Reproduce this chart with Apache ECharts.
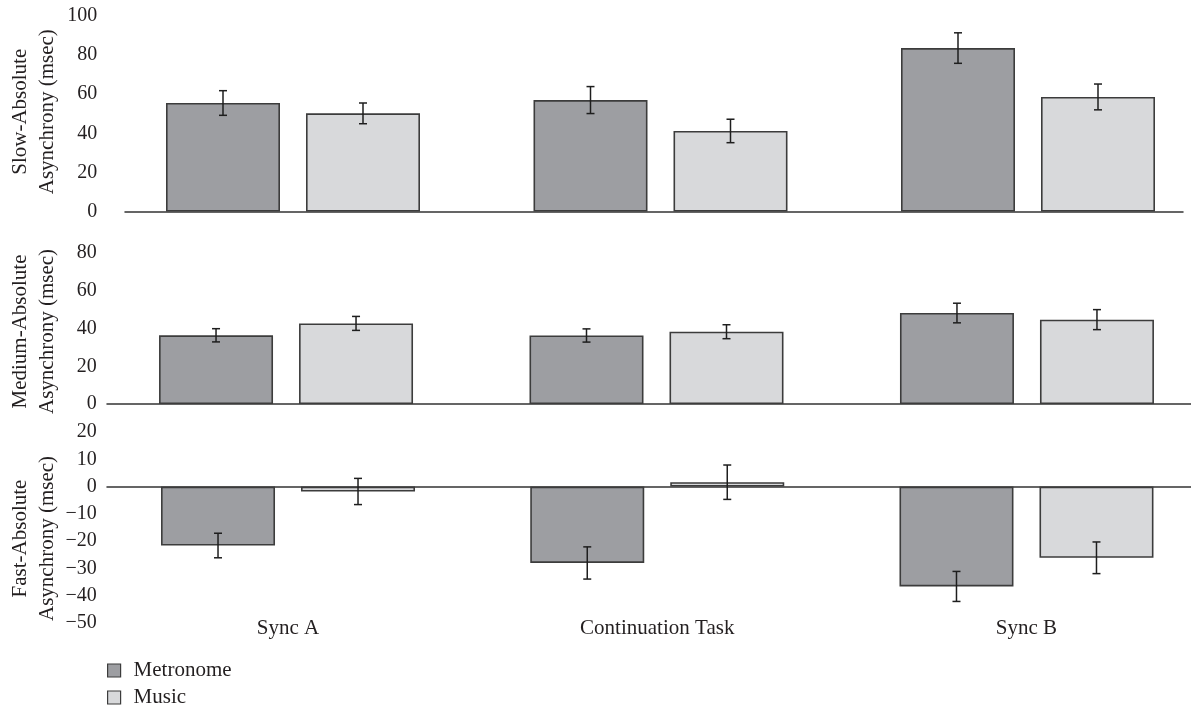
<!DOCTYPE html>
<html>
<head>
<meta charset="utf-8">
<script src="https://cdn.jsdelivr.net/npm/echarts@6/dist/echarts.min.js"></script>
<style>
html,body{margin:0;padding:0;background:#fff;}
#chart{width:1191px;height:707px;}
</style>
</head>
<body>
<div id="chart"></div>
<script>
// ---- data ----
const categories = ['Sync A', 'Continuation Task', 'Sync B'];
const seriesNames = ['Metronome', 'Music'];

const slowTicks = [0, 20, 40, 60, 80, 100];
const slowMetronome = [55.5, 57.0, 83.6];
const slowMetronomeErr = [6.3, 6.9, 7.8];
const slowMusic = [50.2, 41.2, 58.6];
const slowMusicErr = [5.3, 6.0, 6.6];

const mediumTicks = [0, 20, 40, 60, 80];
const mediumMetronome = [36.4, 36.3, 48.2];
const mediumMetronomeErr = [3.5, 3.5, 5.2];
const mediumMusic = [42.7, 38.3, 44.7];
const mediumMusicErr = [3.7, 3.7, 5.3];

const fastTicks = [-50, -40, -30, -20, -10, 0, 10, 20];
const fastMetronome = [-21.6, -28.0, -36.6];
const fastMetronomeErr = [4.5, 5.9, 5.5];
const fastMusic = [-1.8, 1.6, -26.1];
const fastMusicErr = [4.8, 6.3, 5.8];

// ---- style ----
const FONT = '"Liberation Serif", "DejaVu Serif", serif';
const TEXT = '#231f20';
const COLORS = ['#9d9ea2', '#d8d9db'];
const BORDER = '#3c3c3c';
const BAR_W = 114;
const BAR_GAP = 26;
const TICK_FS = 20;
const TEXT_FS = 21;

const panels = [
  { title: 'Slow-Absolute\nAsynchrony (msec)', ticks: slowTicks,
    vals: [slowMetronome, slowMusic], errs: [slowMetronomeErr, slowMusicErr],
    bar: { left: 109.25, right: -20.75, top: 16, bottom: 495.5 },
    line: { left: 125, right: 8 }, labelMargin: 12, nameGap: 48.25, namePad: [0,0,0,4], showX: false },
  { title: 'Medium-Absolute\nAsynchrony (msec)', ticks: mediumTicks,
    vals: [mediumMetronome, mediumMusic], errs: [mediumMetronomeErr, mediumMusicErr],
    bar: { left: 100.8, right: -21.2, top: 253, bottom: 303 },
    line: { left: 107, right: 0 }, labelMargin: 4, nameGap: 40, namePad: [0,6,0,0], showX: false },
  { title: 'Fast-Absolute\nAsynchrony (msec)', ticks: fastTicks,
    vals: [fastMetronome, fastMusic], errs: [fastMetronomeErr, fastMusicErr],
    bar: { left: 103.4, right: -20.1, top: 432, bottom: 84 },
    line: { left: 107, right: 0 }, labelMargin: 6.7, nameGap: 42.4, namePad: [0,22,0,0], showX: true }
];

const grid = [], xAxis = [], yAxis = [], series = [];

panels.forEach((p, i) => {
  const tmin = p.ticks[0], tmax = p.ticks[p.ticks.length - 1];
  const step = p.ticks[1] - p.ticks[0];
  const bi = grid.length;
  grid.push(Object.assign({ outerBoundsMode: 'none', containLabel: false }, p.bar));
  grid.push(Object.assign({ outerBoundsMode: 'none', containLabel: false, top: p.bar.top, bottom: p.bar.bottom }, p.line));
  const li = bi + 1;

  xAxis.push({
    type: 'category', gridIndex: bi, data: categories, position: 'bottom',
    axisLine: { show: false }, axisTick: { show: false },
    axisLabel: { show: p.showX, margin: -5, fontFamily: FONT, fontSize: TEXT_FS, color: TEXT },
    splitLine: { show: false }
  });
  xAxis.push({
    type: 'value', gridIndex: li, min: 0, max: 1,
    axisLine: { show: true, onZero: true, lineStyle: { color: '#333', width: 1.5 } },
    axisTick: { show: false }, axisLabel: { show: false }, splitLine: { show: false }
  });
  yAxis.push({
    type: 'value', gridIndex: bi, min: tmin, max: tmax, interval: step,
    axisLine: { show: false }, axisTick: { show: false }, splitLine: { show: false },
    axisLabel: { margin: p.labelMargin, fontFamily: FONT, fontSize: TICK_FS, color: TEXT,
      formatter: v => (v < 0 ? '\u2212' + Math.abs(v) : String(v)) },
    name: p.title, nameLocation: 'middle', nameRotate: 90, nameGap: p.nameGap,
    nameMoveOverlap: false,
    nameTextStyle: { fontFamily: FONT, fontSize: TEXT_FS, color: TEXT, lineHeight: 27, align: 'center', padding: p.namePad }
  });
  yAxis.push({
    type: 'value', gridIndex: li, min: tmin, max: tmax, interval: step,
    axisLine: { show: false }, axisTick: { show: false }, splitLine: { show: false }, axisLabel: { show: false }
  });

  seriesNames.forEach((name, k) => {
    series.push({
      name: name, type: 'bar', xAxisIndex: bi, yAxisIndex: bi,
      data: p.vals[k], barWidth: BAR_W, barGap: (BAR_GAP / BAR_W * 100) + '%',
      itemStyle: { color: COLORS[k], borderColor: BORDER, borderWidth: 1.6 },
      emphasis: { disabled: true }, z: 2
    });
  });
  seriesNames.forEach((name, k) => {
    const off = (k === 0 ? -1 : 1) * (BAR_W + BAR_GAP) / 2;
    series.push({
      type: 'custom', xAxisIndex: bi, yAxisIndex: bi, z: 5, silent: true,
      data: p.vals[k].map((v, j) => [j, v, p.errs[k][j]]),
      renderItem: function (params, api) {
        const x = api.value(0), v = api.value(1), e = api.value(2);
        const hi = api.coord([x, v + e]);
        const lo = api.coord([x, v - e]);
        const cx = hi[0] + off;
        const cap = 4;
        const st = { stroke: '#1e1e1e', lineWidth: 1.5 };
        return { type: 'group', children: [
          { type: 'line', shape: { x1: cx, y1: hi[1], x2: cx, y2: lo[1] }, style: st },
          { type: 'line', shape: { x1: cx - cap, y1: hi[1], x2: cx + cap, y2: hi[1] }, style: st },
          { type: 'line', shape: { x1: cx - cap, y1: lo[1], x2: cx + cap, y2: lo[1] }, style: st }
        ]};
      }
    });
  });
});

const legendBase = {
  orient: 'vertical', left: 107, padding: 0,
  itemWidth: 13, itemHeight: 13, icon: 'rect',
  itemStyle: { borderColor: BORDER, borderWidth: 1.2 },
  textStyle: { fontFamily: FONT, fontSize: TEXT_FS, color: TEXT, lineHeight: 21, padding: [0, 0, 0, 8] },
  selectedMode: false
};

const chart = echarts.init(document.getElementById('chart'), null, { renderer: 'canvas' });
chart.setOption({
  animation: false,
  backgroundColor: '#fff',
  grid: grid, xAxis: xAxis, yAxis: yAxis, series: series,
  legend: [
    Object.assign({ data: [seriesNames[0]], top: 660 }, legendBase),
    Object.assign({ data: [seriesNames[1]], top: 687 }, legendBase)
  ]
});
</script>
</body>
</html>
